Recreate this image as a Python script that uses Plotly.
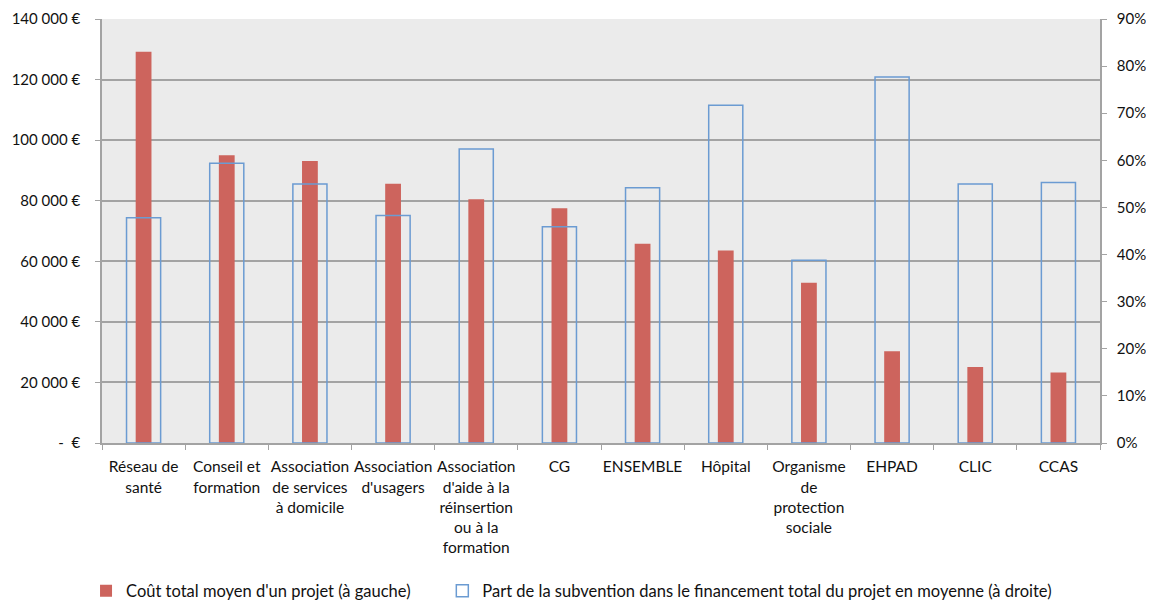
import plotly.graph_objects as go

categories = [
    "Réseau de<br>santé",
    "Conseil et<br>formation",
    "Association<br>de services<br>à domicile",
    "Association<br>d'usagers",
    "Association<br>d'aide à la<br>réinsertion<br>ou à la<br>formation",
    "CG",
    "ENSEMBLE",
    "Hôpital",
    "Organisme<br>de<br>protection<br>sociale",
    "EHPAD",
    "CLIC",
    "CCAS",
]
cout_total = [129200, 95000, 93100, 85600, 80500, 77500, 65800, 63600, 52900, 30300, 25100, 23300]
part_subvention = [0.478, 0.594, 0.550, 0.483, 0.624, 0.459, 0.542, 0.717, 0.388, 0.777, 0.550, 0.553]

left_ticks = [0, 20000, 40000, 60000, 80000, 100000, 120000, 140000]
left_labels = ["-  €", "20 000 €", "40 000 €", "60 000 €", "80 000 €", "100 000 €", "120 000 €", "140 000 €"]
right_ticks = [i / 10 for i in range(10)]

FONT = "Lato, 'Open Sans', sans-serif"
GRID = "#a3a3a3"

fig = go.Figure()
fig.add_trace(go.Bar(
    name="Coût total moyen d'un projet (à gauche)",
    x=categories, y=cout_total,
    width=0.19,
    marker=dict(color="#cd645d", line=dict(width=0)),
    yaxis="y", legend="legend",
))
fig.add_trace(go.Bar(
    name="Part de la subvention dans le financement total du projet en moyenne (à droite)",
    x=categories, y=part_subvention,
    width=0.41,
    marker=dict(color="rgba(0,0,0,0)", line=dict(color="#6b9bd2", width=1.5)),
    yaxis="y2", legend="legend2",
))

legend_style = dict(
    orientation="h", xanchor="left", y=-0.349, yanchor="middle",
    font=dict(size=16.5), itemwidth=30, bgcolor="rgba(0,0,0,0)",
)

# the page body adds an 8px offset, so the figure is 8px smaller than the window
fig.update_layout(
    width=1146, height=592,
    margin=dict(l=94, r=54, t=11, b=157, autoexpand=False),
    paper_bgcolor="white",
    plot_bgcolor="#ebebeb",
    barmode="overlay",
    font=dict(family=FONT, size=15, color="#111"),
    showlegend=True,
    legend=dict(x=-0.016, **legend_style),
    legend2=dict(x=0.341, **legend_style),
    xaxis=dict(
        type="category", tickangle=0, tickson="boundaries",
        ticks="outside", ticklen=5, tickcolor=GRID,
        showline=True, linecolor=GRID, linewidth=1.5,
        showgrid=False, automargin=False,
        tickfont=dict(size=15.5), ticklabelstandoff=9,
    ),
    yaxis=dict(
        range=[0, 140000], tickvals=left_ticks, ticktext=left_labels,
        showgrid=True, gridcolor=GRID, gridwidth=1.5,
        showline=True, linecolor=GRID, linewidth=1.5,
        ticks="outside", ticklen=5, tickcolor=GRID,
        zeroline=False, automargin=False, ticklabelstandoff=12,
    ),
    yaxis2=dict(
        overlaying="y", side="right",
        range=[0, 0.9], tickvals=right_ticks, tickformat=".0%",
        showgrid=False, showline=True, linecolor=GRID, linewidth=1.5,
        ticks="outside", ticklen=5, tickcolor=GRID,
        zeroline=False, automargin=False, ticklabelstandoff=7,
    ),
)

fig.write_html("out.html")
